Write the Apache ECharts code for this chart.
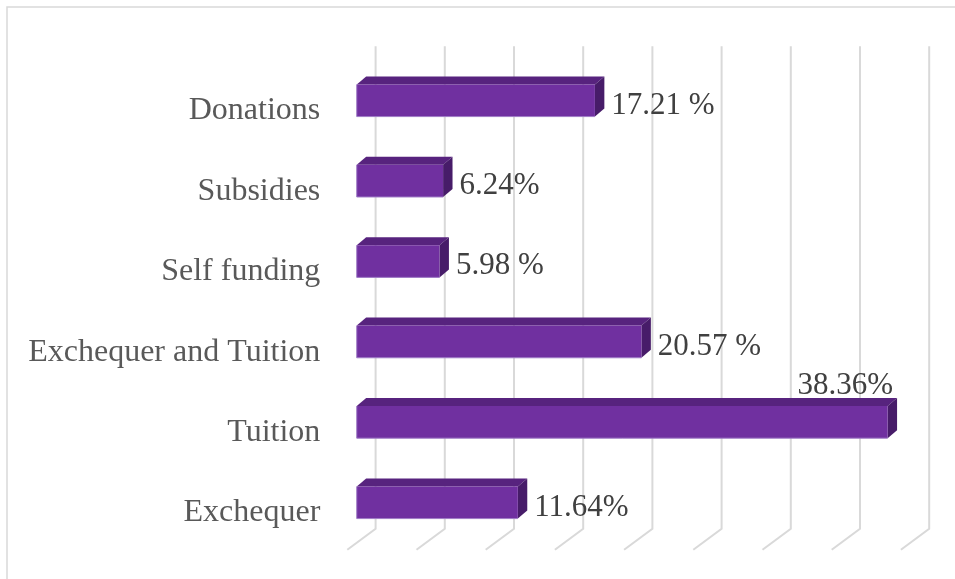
<!DOCTYPE html>
<html>
<head>
<meta charset="utf-8">
<style>
  html, body { margin: 0; padding: 0; background: #ffffff; }
  #chart { width: 955px; height: 579px; }
</style>
<script src="https://cdn.jsdelivr.net/npm/echarts@6/dist/echarts.min.js"></script>
</head>
<body>
<div id="chart"></div>
<script>
// Funding sources, top to bottom
const categories = ['Donations', 'Subsidies', 'Self funding', 'Exchequer and Tuition', 'Tuition', 'Exchequer'];
// Share of funding (%)
const shares = [17.21, 6.24, 5.98, 20.57, 38.36, 11.64];
// Value labels as printed beside each bar
const shareLabels = ['17.21 %', '6.24%', '5.98 %', '20.57 %', '38.36%', '11.64%'];
// Value-axis gridline positions (%)
const axisTicks = [0, 5, 10, 15, 20, 25, 30, 35, 40];

// Oblique depth of the floor (front edge -> back wall), in pixels
const DEPTH_X = 28.3;
const DEPTH_Y = -21;
const FONT = '"Liberation Serif", "Times New Roman", serif';

const chart = echarts.init(document.getElementById('chart'), null, { renderer: 'canvas' });

function renderGrid(params, api) {
  const cs = params.coordSys;
  const p = api.coord([api.value(0), api.value(1)]);
  const bottom = cs.y + cs.height;
  const top = cs.y;
  return {
    type: 'polyline',
    silent: true,
    shape: {
      points: [
        [p[0], bottom],
        [p[0] + DEPTH_X, bottom + DEPTH_Y],
        [p[0] + DEPTH_X, top + DEPTH_Y]
      ]
    },
    style: { stroke: '#d9d9d9', lineWidth: 2, fill: null }
  };
}

function renderBar(params, api) {
  const idx = params.dataIndex;
  const cat = api.value(1);
  const start = api.coord([0, cat]);
  const end = api.coord([api.value(0), cat]);
  const band = api.size([0, 1])[1];
  const h = band * 0.4;
  // bar occupies the middle third of the floor depth
  const fx = DEPTH_X / 3, fy = DEPTH_Y / 3;
  const bx = DEPTH_X / 3, by = DEPTH_Y / 3 - 1;
  const cy = start[1] + fy;
  const top = cy - h / 2;
  const bottom = cy + h / 2;
  const xl = start[0] + fx;
  const xr = end[0] + fx;

  const children = [
    {
      type: 'polygon',
      shape: { points: [[xl, top], [xr, top], [xr + bx, top + by], [xl + bx, top + by]] },
      style: { fill: '#57237e' }
    },
    {
      type: 'polygon',
      shape: { points: [[xr, top], [xr + bx, top + by], [xr + bx, bottom + by], [xr, bottom]] },
      style: { fill: '#471c69' }
    },
    {
      type: 'rect',
      shape: { x: xl, y: top, width: xr - xl, height: h },
      style: { fill: '#7030a0' }
    },
    {
      type: 'polyline',
      shape: { points: [[xl, top], [xl, bottom], [xr, bottom]] },
      style: { stroke: '#9f7cc6', lineWidth: 1, fill: null }
    }
  ];

  const labelX = xr + bx + 7;
  const room = api.getWidth() - labelX;
  const textStyle = { text: shareLabels[idx], fontSize: 31, fontFamily: FONT, fill: '#404040' };
  if (room > 110) {
    children.push({
      type: 'text',
      x: labelX,
      y: cy + 5,
      style: Object.assign({ align: 'left', verticalAlign: 'middle' }, textStyle)
    });
  } else {
    children.push({
      type: 'text',
      x: xr + bx - 4,
      y: top + by + 3,
      style: Object.assign({ align: 'right', verticalAlign: 'bottom' }, textStyle)
    });
  }
  return { type: 'group', children: children };
}

const option = {
  animation: false,
  backgroundColor: '#ffffff',
  graphic: [
    {
      type: 'rect',
      silent: true,
      shape: { x: 7, y: 7, width: 1000, height: 1000 },
      style: { fill: null, stroke: '#d9d9d9', lineWidth: 1.5 }
    }
  ],
  grid: { left: 347.3, top: 67.3, width: 553.6, height: 482.4, containLabel: false },
  xAxis: {
    type: 'value', min: 0, max: 40, interval: 5,
    axisLabel: { show: false }, axisLine: { show: false }, axisTick: { show: false },
    splitLine: { show: false }
  },
  yAxis: {
    type: 'category', data: categories, inverse: true,
    axisLine: { show: false }, axisTick: { show: false },
    axisLabel: {
      margin: 27,
      formatter: v => '{c|' + v + '}',
      rich: {
        c: { fontSize: 32, fontFamily: FONT, color: '#595959', padding: [7, 0, 0, 0] }
      }
    }
  },
  series: [
    {
      type: 'custom', name: 'grid', z: 1, clip: false,
      renderItem: renderGrid,
      data: axisTicks.map(v => [v, 0]),
      encode: { x: 0, y: 1 }
    },
    {
      type: 'custom', name: 'Share', z: 2, clip: false,
      renderItem: renderBar,
      data: shares.map((v, i) => [v, i]),
      encode: { x: 0, y: 1 }
    }
  ]
};

chart.setOption(option);
</script>
</body>
</html>
